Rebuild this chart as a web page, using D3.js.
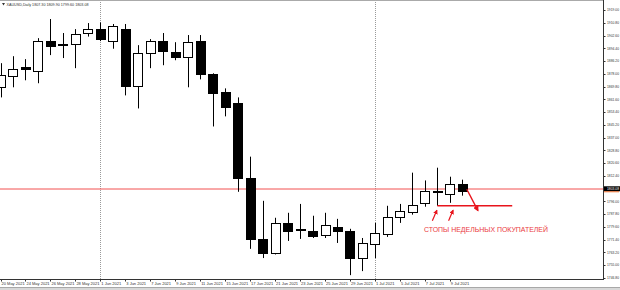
<!DOCTYPE html>
<html>
<head>
<meta charset="utf-8">
<script src="https://cdn.jsdelivr.net/npm/d3@7"></script>
<style>
  body { margin: 0; background: #fff; }
  svg { display: block; font-family: "Liberation Sans", Arial, sans-serif; }
</style>
</head>
<body>
<svg id="fig"></svg>
<script>
// daily bars XAUUSD
const dates = ['20 May','21 May','24 May','25 May','26 May','27 May','28 May','31 May',
  '1 Jun','2 Jun','3 Jun','4 Jun','7 Jun','8 Jun','9 Jun','10 Jun','11 Jun','14 Jun','15 Jun',
  '16 Jun','17 Jun','18 Jun','21 Jun','22 Jun','23 Jun','24 Jun','25 Jun','28 Jun','29 Jun','30 Jun',
  '1 Jul','2 Jul','5 Jul','6 Jul','7 Jul','8 Jul','9 Jul','12 Jul'];
const open  = [1869.3,1876.4,1882.2,1880.0,1899.0,1897.1,1897.1,1904.2,1906.7,1899.3,1906.7,1869.9,1891.2,1899.0,1891.9,1888.9,1899.0,1877.7,1866.1,1859.0,1811.2,1771.8,1762.8,1782.1,1778.3,1777.0,1774.4,1779.6,1777.0,1759.5,1768.6,1775.0,1786.0,1789.2,1794.6,1802.3,1800.9,1807.3];
const high  = [1884.8,1889.3,1887.4,1900.9,1913.2,1904.2,1906.7,1910.6,1911.0,1910.0,1910.0,1896.4,1900.3,1904.2,1898.3,1902.9,1902.9,1878.3,1868.6,1862.8,1824.7,1796.3,1785.4,1788.6,1794.3,1786.7,1788.6,1784.7,1778.3,1772.4,1782.1,1793.1,1794.3,1814.4,1809.4,1817.6,1811.8,1809.9];
const low   = [1862.8,1869.3,1873.8,1871.9,1890.0,1888.1,1881.6,1901.9,1899.0,1894.1,1864.1,1855.7,1881.6,1883.5,1886.7,1869.3,1874.4,1844.1,1850.6,1802.1,1765.4,1759.5,1761.8,1770.5,1771.8,1772.4,1772.4,1769.2,1748.5,1751.1,1759.5,1773.1,1782.1,1787.4,1792.5,1793.1,1795.0,1799.6];
const close = [1877.0,1881.2,1880.9,1899.0,1896.1,1896.4,1903.8,1906.7,1900.3,1908.7,1869.9,1891.2,1899.0,1892.5,1888.7,1898.3,1877.7,1865.4,1856.4,1810.5,1771.8,1762.8,1782.1,1777.0,1777.6,1773.7,1780.8,1777.0,1759.5,1769.2,1775.7,1786.0,1789.9,1793.8,1802.3,1801.6,1807.3,1803.08];

const priceTicks = [1919.00,1910.80,1902.60,1894.40,1886.20,1878.00,1869.80,1861.60,1853.40,1845.20,
  1837.00,1828.80,1820.60,1812.40,1796.00,1787.80,1779.60,1771.40,1763.20,1755.00,1746.80];
const dateTicks = ['20 May 2021','24 May 2021','26 May 2021','28 May 2021','1 Jun 2021','3 Jun 2021',
  '7 Jun 2021','9 Jun 2021','11 Jun 2021','15 Jun 2021','17 Jun 2021','21 Jun 2021','23 Jun 2021',
  '25 Jun 2021','29 Jun 2021','1 Jul 2021','5 Jul 2021','7 Jul 2021','9 Jul 2021'];
const monthStarts = ['1 Jun', '1 Jul'];

// annotation
const stopLevel = 1793.1;
const noteText = 'СТОПЫ НЕДЕЛЬНЫХ ПОКУПАТЕЛЕЙ';

const width = 620, height = 290;
const plotRight = 603, plotBottom = 279;

const svg = d3.select('#fig').attr('width', width).attr('height', height);

const x = d3.scaleLinear().domain([0, dates.length - 1]).range([0.5, 462.3]);
const y = d3.scaleLinear().domain([1746.8, 1919.0]).range([277.8, 10]);
const bodyW = 9;

const bars = dates.map((d, i) => ({ d, i, o: open[i], h: high[i], l: low[i], c: close[i] }));

const defs = svg.append('defs');
defs.append('clipPath').attr('id', 'plot')
  .append('rect').attr('x', 0).attr('y', 0).attr('width', plotRight).attr('height', plotBottom);
defs.append('marker').attr('id', 'ah').attr('viewBox', '0 0 10 10')
  .attr('refX', 8).attr('refY', 5).attr('markerWidth', 4).attr('markerHeight', 4)
  .attr('orient', 'auto')
  .append('path').attr('d', 'M0,0L10,5L0,10z').attr('fill', '#e8141c');

const g = svg.append('g').attr('clip-path', 'url(#plot)');

// month separators
g.selectAll('line.sep').data(monthStarts).enter().append('line')
  .attr('x1', d => Math.round(x(dates.indexOf(d))) + 0.5)
  .attr('x2', d => Math.round(x(dates.indexOf(d))) + 0.5)
  .attr('y1', 0).attr('y2', plotBottom)
  .attr('stroke', '#9a9a9a').attr('stroke-dasharray', '1,1');

// bid line
const cy = y(close[close.length - 1]) - 1.5;
g.append('line')
  .attr('x1', 0).attr('x2', plotRight)
  .attr('y1', Math.round(cy)).attr('y2', Math.round(cy))
  .attr('stroke', '#f25050');

// wicks
g.selectAll('line.wick').data(bars).enter().append('line')
  .attr('x1', b => Math.round(x(b.i)) + 0.5)
  .attr('x2', b => Math.round(x(b.i)) + 0.5)
  .attr('y1', b => y(b.h)).attr('y2', b => y(b.l))
  .attr('stroke', '#000');

// bodies
g.selectAll('rect.body').data(bars).enter().append('rect')
  .attr('x', b => Math.round(x(b.i) - bodyW / 2) + 0.5)
  .attr('y', b => Math.round(y(Math.max(b.o, b.c))) + 0.5)
  .attr('width', bodyW)
  .attr('height', b => Math.max(1, Math.round(Math.abs(y(b.o) - y(b.c)))))
  .attr('fill', b => b.c >= b.o ? '#fff' : '#000')
  .attr('stroke', '#000');

// annotation: stop level
const ann = svg.append('g');
ann.append('line')
  .attr('x1', x(35)).attr('x2', x(41))
  .attr('y1', y(stopLevel)).attr('y2', y(stopLevel))
  .attr('stroke', '#e8141c').attr('stroke-width', 1.4);
ann.append('line')
  .attr('x1', x(37) + 4.5).attr('y1', y(close[37]) - 1)
  .attr('x2', x(37.05) + 15).attr('y2', y(1790.0))
  .attr('stroke', '#e8141c').attr('stroke-width', 1.4).attr('marker-end', 'url(#ah)');
[34.6, 35.9].forEach(k => {
  ann.append('line')
    .attr('x1', x(k)).attr('y1', y(1783.5))
    .attr('x2', x(k) + 4.5).attr('y2', y(1790.2))
    .attr('stroke', '#e8141c').attr('stroke-width', 1.2).attr('marker-end', 'url(#ah)');
});
ann.append('text')
  .attr('x', 424).attr('y', y(1776))
  .attr('textLength', 124).attr('lengthAdjust', 'spacingAndGlyphs')
  .attr('font-size', 6.5).attr('fill', '#ea3a3e')
  .text(noteText);

// frame
svg.append('line').attr('x1', 0).attr('x2', plotRight).attr('y1', 0.5).attr('y2', 0.5).attr('stroke', '#aaa');
svg.append('line').attr('x1', plotRight + 0.5).attr('x2', plotRight + 0.5).attr('y1', 0).attr('y2', plotBottom)
  .attr('stroke', '#333');
svg.append('line').attr('x1', 0).attr('x2', plotRight + 1).attr('y1', plotBottom + 0.5).attr('y2', plotBottom + 0.5)
  .attr('stroke', '#333');

// price axis
const py = svg.append('g');
py.selectAll('line').data(priceTicks).enter().append('line')
  .attr('x1', plotRight).attr('x2', plotRight + 2.5)
  .attr('y1', d => Math.round(y(d)) + 0.5).attr('y2', d => Math.round(y(d)) + 0.5)
  .attr('stroke', '#333');
py.selectAll('text').data(priceTicks).enter().append('text')
  .attr('x', plotRight + 4).attr('y', d => y(d) + 1.4)
  .attr('font-size', 4).attr('fill', '#333')
  .attr('textLength', 12).attr('lengthAdjust', 'spacingAndGlyphs')
  .text(d => d.toFixed(2));

// current price label
py.append('rect').attr('x', plotRight + 1).attr('y', cy - 2.5).attr('width', 16).attr('height', 5).attr('fill', '#000');
py.append('line').attr('x1', plotRight + 1).attr('x2', width - 1).attr('y1', cy + 3).attr('y2', cy + 3)
  .attr('stroke', '#f07030');
py.append('text').attr('x', plotRight + 4).attr('y', cy + 1.4)
  .attr('font-size', 4).attr('fill', '#fff')
  .attr('textLength', 12).attr('lengthAdjust', 'spacingAndGlyphs')
  .text(close[close.length - 1].toFixed(2));

// date axis
const dx = svg.append('g');
dx.selectAll('line').data(dateTicks).enter().append('line')
  .attr('x1', (d, k) => Math.round(x(k * 2)) + 0.5).attr('x2', (d, k) => Math.round(x(k * 2)) + 0.5)
  .attr('y1', plotBottom).attr('y2', plotBottom + 2.5)
  .attr('stroke', '#333');
dx.selectAll('text').data(dateTicks).enter().append('text')
  .attr('x', (d, k) => x(k * 2) + 1).attr('y', plotBottom + 5.5)
  .attr('font-size', 4).attr('fill', '#333')
  .text(d => d);

// header
svg.append('path').attr('d', 'M2,3L5,3L3.5,5.5z').attr('fill', '#333');
svg.append('text').attr('x', 6.5).attr('y', 5.5).attr('font-size', 3.8).attr('fill', '#333')
  .attr('textLength', 82).attr('lengthAdjust', 'spacingAndGlyphs')
  .text('XAUUSD,Daily  ' + [open[37], high[37], low[37], close[37]].map(v => v.toFixed(2)).join(' '));

// bottom tab bar
svg.append('rect').attr('x', 0).attr('y', 287).attr('width', width).attr('height', 3).attr('fill', '#d8d8d8');
svg.append('line').attr('x1', 0).attr('x2', width).attr('y1', 287.5).attr('y2', 287.5).attr('stroke', '#a8a8a8');
</script>
</body>
</html>
